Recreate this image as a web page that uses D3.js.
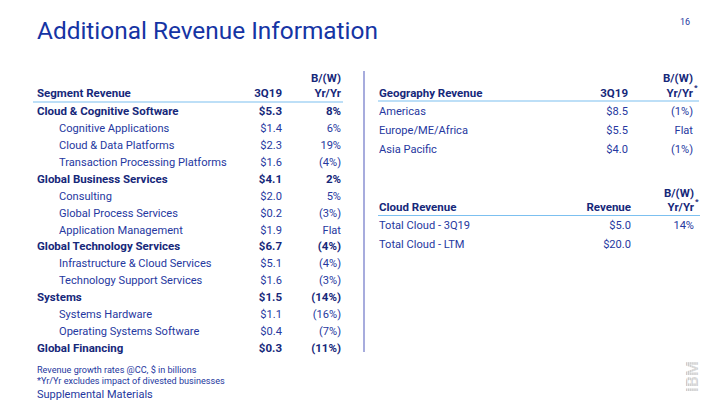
<!DOCTYPE html>
<html><head><meta charset="utf-8">
<script src="https://cdn.jsdelivr.net/npm/d3@7"></script>
<style>body{margin:0;background:#fff}svg{display:block}text{font-family:Roboto,sans-serif}</style>
</head><body><div id="c"></div>
<script>
// Segment table data
const segNames = ["Cloud & Cognitive Software","Cognitive Applications","Cloud & Data Platforms","Transaction Processing Platforms","Global Business Services","Consulting","Global Process Services","Application Management","Global Technology Services","Infrastructure & Cloud Services","Technology Support Services","Systems","Systems Hardware","Operating Systems Software","Global Financing"];
const segLevel = [0,1,1,1,0,1,1,1,0,1,1,0,1,1,0];
const segValues = ["$5.3","$1.4","$2.3","$1.6","$4.1","$2.0","$0.2","$1.9","$6.7","$5.1","$1.6","$1.5","$1.1","$0.4","$0.3"];
const segChange = ["8%","6%","19%","(4%)","2%","5%","(3%)","Flat","(4%)","(4%)","(3%)","(14%)","(16%)","(7%)","(11%)"];
// Geography table data
const geoNames = ["Americas","Europe/ME/Africa","Asia Pacific"];
const geoValues = ["$8.5","$5.5","$4.0"];
const geoChange = ["(1%)","Flat","(1%)"];
// Cloud table data
const cloudNames = ["Total Cloud - 3Q19","Total Cloud - LTM"];
const cloudValues = ["$5.0","$20.0"];
const cloudChange = ["14%",""];

const W=720,H=405;
const svg=d3.select("#c").append("svg").attr("width",W).attr("height",H);
const TXT="#2638a0", BOLD="#16287a", RULE="#7cc0f0", FS=11.1, FSB=11.5;

svg.append("text").attr("x",37).attr("y",38.5).attr("font-size",24.4).attr("fill","#1534a4").text("Additional Revenue Information");
svg.append("text").attr("x",690).attr("y",25).attr("text-anchor","end").attr("font-size",9).attr("fill",TXT).text("16");

function t(g,x,y,s,opt={}){
  return g.append("text").attr("x",x).attr("y",y).attr("font-size",opt.fs||(opt.b?FSB:FS))
    .attr("font-weight",opt.b?"bold":"normal").attr("fill",opt.b?BOLD:TXT)
    .attr("text-anchor",opt.end?"end":"start").text(s);
}

// Left table
const yL=d3.scaleBand().domain(d3.range(segNames.length)).range([102.5,356.5]);
const gL=svg.append("g");
t(gL,37,97,"Segment Revenue",{b:1});
t(gL,282,97,"3Q19",{b:1,end:1});
t(gL,341,82,"B/(W)",{b:1,end:1});
t(gL,341,97,"Yr/Yr",{b:1,end:1});
gL.append("line").attr("x1",33).attr("x2",343).attr("y1",102).attr("y2",102).attr("stroke",RULE).attr("stroke-width",1.2);
segNames.forEach((d,i)=>{
  const b=segLevel[i]===0, y=yL(i)+yL.bandwidth()/2+4;
  t(gL,b?37:59,y,d,{b});
  t(gL,282,y,segValues[i],{b,end:1});
  t(gL,341,y,segChange[i],{b,end:1});
});

// footnotes
t(svg,37,373,"Revenue growth rates @CC, $ in billions",{fs:9.1});
t(svg,37,384,"*Yr/Yr excludes impact of divested businesses",{fs:9.1});
t(svg,37,397.5,"Supplemental Materials",{fs:11});

// divider
svg.append("line").attr("x1",364).attr("x2",364).attr("y1",71).attr("y2",352).attr("stroke","#8a90d2").attr("stroke-width",1.5);

function rightTable(top, title, col2, names, vals, chg, x2, x3, lx2){
  const g=svg.append("g");
  t(g,379,top,title,{b:1});
  t(g,x2,top,col2,{b:1,end:1});
  t(g,x3,top-14.5,"B/(W)",{b:1,end:1});
  t(g,x3,top,"Yr/Yr",{b:1,end:1});
  t(g,x3+1,top-7,"*",{b:1,fs:8});
  g.append("line").attr("x1",378).attr("x2",lx2).attr("y1",top+4.5).attr("y2",top+4.5).attr("stroke",RULE).attr("stroke-width",1.2);
  const y=d3.scaleBand().domain(d3.range(names.length)).range([top+4.5,top+4.5+names.length*18.8]);
  names.forEach((n,i)=>{
    const cy=y(i)+y.bandwidth()/2+4.5;
    t(g,379,cy,n);
    t(g,x2,cy,vals[i],{end:1});
    t(g,x3,cy,chg[i],{end:1});
  });
}
rightTable(96.5,"Geography Revenue","3Q19",geoNames,geoValues,geoChange,628,693,699);
rightTable(211,"Cloud Revenue","Revenue",cloudNames,cloudValues,cloudChange,631,694,700);

// IBM logo (rotated, striped)
const lg=svg.append("g");
lg.append("text").attr("transform","translate(698,376.5) rotate(-90)").attr("text-anchor","middle")
  .attr("font-size",17).attr("font-weight","bold").attr("fill","#c4c4c4").attr("letter-spacing",0.3).text("IBM");
d3.range(8).forEach(k=>lg.append("line").attr("x1",685.5+k*1.9).attr("x2",685.5+k*1.9).attr("y1",356).attr("y2",397).attr("stroke","#fff").attr("stroke-width",0.7));
</script></body></html>
